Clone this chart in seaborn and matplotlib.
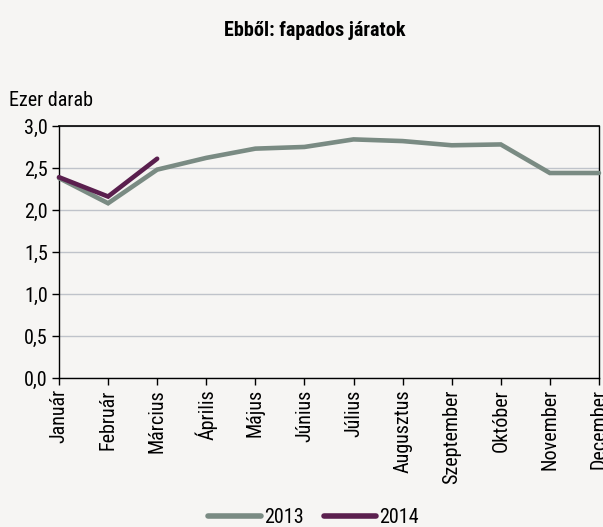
import numpy as np
import pandas as pd
import seaborn as sns
import matplotlib.pyplot as plt
from matplotlib import font_manager
from matplotlib.lines import Line2D

months = ["Január", "Február", "Március", "Április", "Május", "Június",
          "Július", "Augusztus", "Szeptember", "Október", "November", "December"]
vals_2013 = [2.38, 2.08, 2.48, 2.62, 2.73, 2.75, 2.84, 2.82, 2.77, 2.78, 2.44, 2.44]
vals_2014 = [2.39, 2.16, 2.61]
yticks = [0.0, 0.5, 1.0, 1.5, 2.0, 2.5, 3.0]

BG = "#F6F5F3"
C13 = "#7A8B83"
C14 = "#5A1F4E"

rows = []
for i, v in enumerate(vals_2013):
    rows.append({"pos": i, "ertek": v, "ev": "2013"})
for i, v in enumerate(vals_2014):
    rows.append({"pos": i, "ertek": v, "ev": "2014"})
df = pd.DataFrame(rows)

sns.set_theme(style="white")
# Arial Narrow-szerű betűtípus, ha van
names = {f.name for f in font_manager.fontManager.ttflist}
fam = "Liberation Sans"
for cand in ["Liberation Sans Narrow", "Arial Narrow", "Roboto Condensed", "Asap Condensed",
             "Archivo Narrow", "Barlow Semi Condensed"]:
    if cand in names:
        fam = cand
        break
plt.rcParams["font.family"] = [fam, "DejaVu Sans"]
plt.rcParams["text.color"] = "black"
plt.rcParams["xtick.color"] = "black"
plt.rcParams["ytick.color"] = "black"

fig = plt.figure(figsize=(6.03, 5.27), dpi=100, facecolor=BG)

# betűméret: "Ezer darab" kb. 84 px széles a mintán
probe = fig.text(0, 0, "Ezer darab", fontsize=12)
fig.canvas.draw()
w = probe.get_window_extent().width
probe.remove()
FS = 12 * 84 / w

ax = fig.add_axes([0.0978, 0.2827, 0.8955, 0.4783])
ax.set_facecolor(BG)

sns.lineplot(data=df, x="pos", y="ertek", hue="ev", palette={"2013": C13, "2014": C14},
             linewidth=3.3, ax=ax, legend=False, zorder=3)
for ln in ax.lines:
    ln.set_solid_capstyle("round")
    ln.set_solid_joinstyle("miter")
    ln.set_clip_on(False)

ax.set_xlim(0, 11)
ax.set_ylim(0, 3)
ax.set_yticks(yticks)
ax.set_yticklabels([f"{t:.1f}".replace(".", ",") for t in yticks], fontsize=FS)
ax.set_xticks(range(len(months)))
ax.set_xticklabels(months, rotation=90, fontsize=FS)
ax.yaxis.grid(True, color="#BFC3CA", linewidth=1)
ax.set_axisbelow(True)
ax.tick_params(axis="both", direction="out", length=5, width=1, colors="black", pad=3, left=True, bottom=True)
for s in ax.spines.values():
    s.set_color("black")
    s.set_linewidth(1)
ax.spines["top"].set_linewidth(1.2)
ax.set_xlabel("")
ax.set_ylabel("")

fig.text(0.522, 0.943, "Ebből: fapados járatok", ha="center", va="center",
         fontsize=FS, fontweight="bold")
fig.text(0.015, 0.81, "Ezer darab", ha="left", va="center", fontsize=FS)

handles = [Line2D([], [], color=C13, linewidth=4, solid_capstyle="round"),
           Line2D([], [], color=C14, linewidth=4, solid_capstyle="round")]
fig.legend(handles, ["2013", "2014"], loc="center", bbox_to_anchor=(0.52, 0.018),
           ncol=2, frameon=False, fontsize=FS, handlelength=2.6, handletextpad=0.15,
           columnspacing=1.0)

fig.savefig("out.png", dpi=100, facecolor=BG)
